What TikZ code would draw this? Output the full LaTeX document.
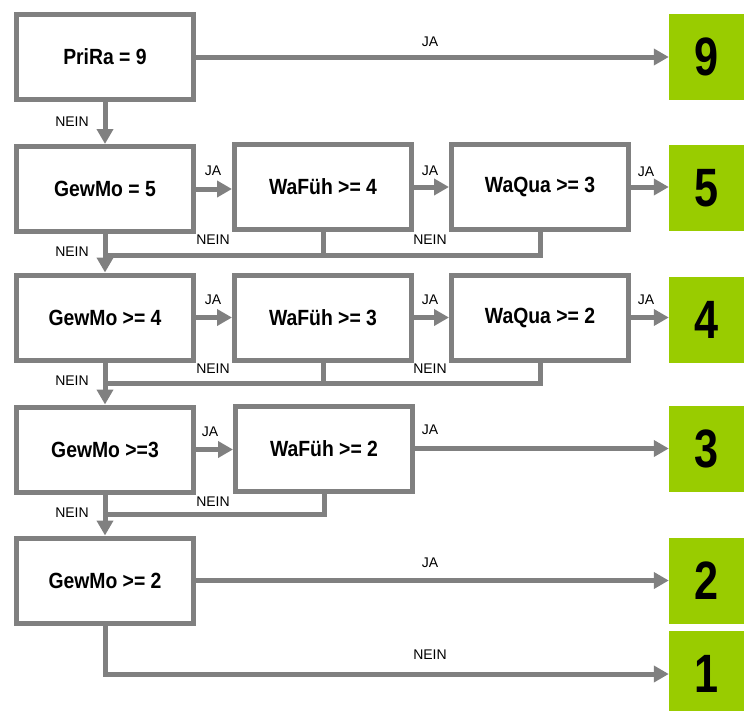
\documentclass[tikz,border=0pt]{standalone}
\usepackage{fontspec}
\setmainfont{Liberation Sans}
\newfontfamily\boxfont{Liberation Sans}[FakeStretch=0.88]
\newfontfamily\numfont{Liberation Sans}[FakeStretch=0.8]
\usetikzlibrary{arrows.meta}
\definecolor{lgray}{RGB}{128,128,128}
\definecolor{lgreen}{RGB}{153,204,0}
\begin{document}
\begin{tikzpicture}[x=1pt,y=-1pt,
  box/.style={draw=lgray, line width=5pt, fill=white, minimum width=177pt, minimum height=85pt, inner sep=0pt, font=\boxfont\bfseries\fontsize{22}{26}\selectfont},
  res/.style={fill=lgreen, minimum width=75pt, minimum height=86pt, inner sep=0pt, font=\numfont\bfseries\fontsize{54}{60}\selectfont},
  conn/.style={draw=lgray, line width=5pt},
  arr/.style={conn, -{Triangle[length=15pt,width=16pt]}},
  lab/.style={font=\fontsize{14}{16}\selectfont, inner sep=0pt}]
\useasboundingbox (0,0) rectangle (744,710);
% row 1
\node[box] (prira) at (105,57) {PriRa = 9};
\node[res] (r9) at (706.5,57) {9};
% row 2
\node[box] (gm5) at (105,189) {GewMo = 5};
\node[box] (wf4) at (323,187) {WaFüh >= 4};
\node[box] (wq3) at (540,187) {WaQua >= 3};
\node[res] (r5) at (706.5,188) {5};
% row 3
\node[box] (gm4) at (105,317.5) {GewMo >= 4};
\node[box] (wf3) at (323,317.5) {WaFüh >= 3};
\node[box] (wq2) at (540,317.5) {WaQua >= 2};
\node[res] (r4) at (706.5,320) {4};
% row 4
\node[box] (gm3) at (105,449.5) {GewMo >=3};
\node[box] (wf2) at (324,448.5) {WaFüh >= 2};
\node[res] (r3) at (706.5,448.5) {3};
% row 5
\node[box] (gm2) at (105,580.5) {GewMo >= 2};
\node[res] (r2) at (706.5,580.5) {2};
\node[res] (r1) at (706.5,674) {1};
% bus coordinates
\coordinate (b2) at (105,255);
\coordinate (b3) at (105,383);
\coordinate (b4) at (105,514);
% NEIN buses
\draw[conn] (wq3.south) |- (b2);
\draw[conn] (wf4.south) -- (wf4.south |- b2);
\draw[conn] (wq2.south) |- (b3);
\draw[conn] (wf3.south) -- (wf3.south |- b3);
\draw[conn] (wf2.south) |- (b4);
% vertical NEIN arrows
\draw[arr] (prira.south) -- (gm5.north);
\draw[arr] (gm5.south) -- (gm4.north);
\draw[arr] (gm4.south) -- (gm3.north);
\draw[arr] (gm3.south) -- (gm2.north);
% JA arrows
\draw[arr] (prira.east) -- (prira.east -| r9.west);
\draw[arr] (gm5.east) -- (gm5.east -| wf4.west);
\draw[arr] (wf4.east) -- (wf4.east -| wq3.west);
\draw[arr] (wq3.east) -- (wq3.east -| r5.west);
\draw[arr] (gm4.east) -- (gm4.east -| wf3.west);
\draw[arr] (wf3.east) -- (wf3.east -| wq2.west);
\draw[arr] (wq2.east) -- (wq2.east -| r4.west);
\draw[arr] (gm3.east) -- (gm3.east -| wf2.west);
\draw[arr] (wf2.east) -- (wf2.east -| r3.west);
\draw[arr] (gm2.east) -- (gm2.east -| r2.west);
\draw[arr] (gm2.south) |- (r1.west);
% labels
\node[lab] (l1) at (430,42) {JA};
\node[lab] (l2) at (72,122) {NEIN};
\node[lab] (l3) at (213,171) {JA};
\node[lab] (l4) at (430,171) {JA};
\node[lab] (l5) at (646,172) {JA};
\node[lab] (l6) at (213,240) {NEIN};
\node[lab] (l7) at (430,240) {NEIN};
\node[lab] (l8) at (72,252) {NEIN};
\node[lab] (l9) at (213,300) {JA};
\node[lab] (l10) at (430,300) {JA};
\node[lab] (l11) at (646,300) {JA};
\node[lab] (l12) at (213,369) {NEIN};
\node[lab] (l13) at (430,369) {NEIN};
\node[lab] (l14) at (72,381) {NEIN};
\node[lab] (l15) at (210,432) {JA};
\node[lab] (l16) at (430,430) {JA};
\node[lab] (l17) at (213,502) {NEIN};
\node[lab] (l18) at (72,513) {NEIN};
\node[lab] (l19) at (430,563) {JA};
\node[lab] (l20) at (430,655) {NEIN};
\end{tikzpicture}
\end{document}
